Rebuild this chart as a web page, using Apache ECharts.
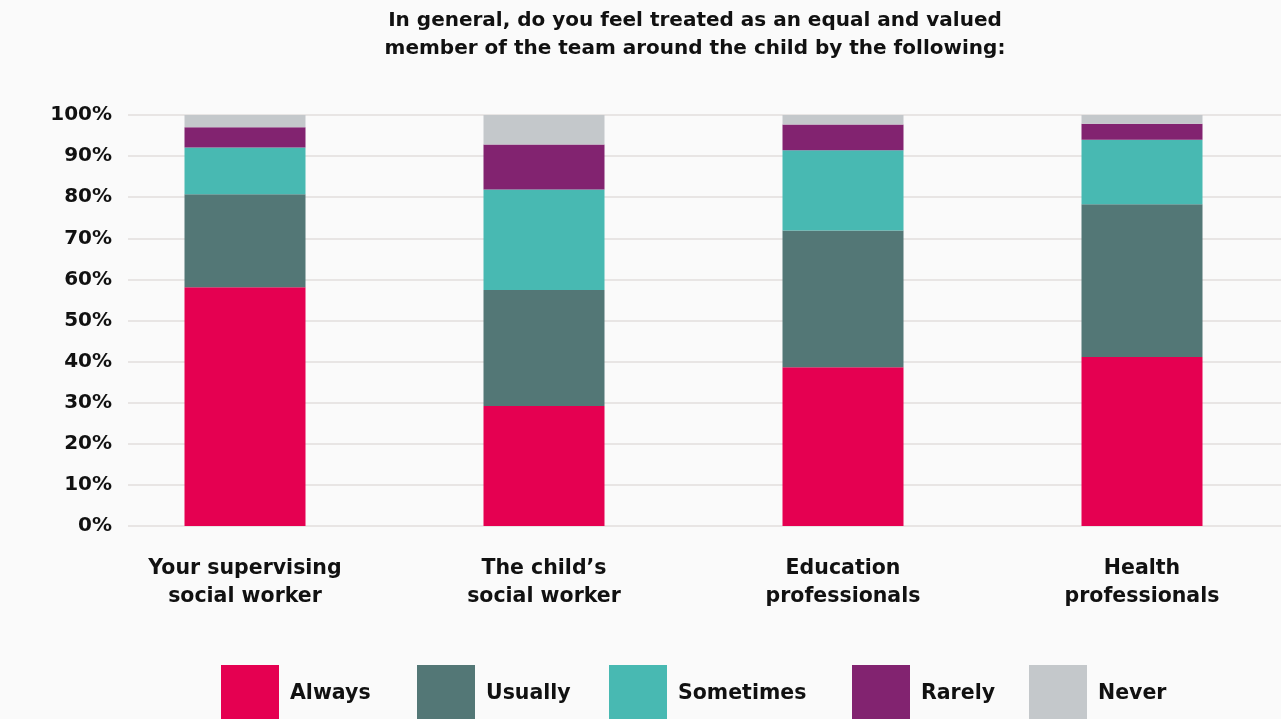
<!DOCTYPE html>
<html>
<head>
<meta charset="utf-8">
<script src="https://cdn.jsdelivr.net/npm/echarts@6/dist/echarts.min.js"></script>
<style>
html,body{margin:0;padding:0;background:#fafafa;}
#c{width:1281px;height:719px;}
</style>
</head>
<body>
<div id="c"></div>
<script>
const categories = ["Your supervising\nsocial worker", "The child\u2019s\nsocial worker", "Education\nprofessionals", "Health\nprofessionals"];
const seriesNames = ["Always", "Usually", "Sometimes", "Rarely", "Never"];
const always    = [58.1, 29.2, 38.6, 41.1];
const usually   = [22.6, 28.2, 33.3, 37.2];
const sometimes = [11.4, 24.5, 19.5, 15.7];
const rarely    = [4.9, 10.9, 6.3, 3.9];
const never     = [3.0, 7.2, 2.3, 2.1];
const yTicks = [0, 10, 20, 30, 40, 50, 60, 70, 80, 90, 100];
const titleText = "In general, do you feel treated as an equal and valued\nmember of the team around the child by the following:";

const colors = ["#e50051", "#537776", "#48b9b2", "#822370", "#c4c8cb"];
const values = [always, usually, sometimes, rarely, never];
const FONT = "DejaVu Sans";
const legendLeft = [221, 417, 609, 852, 1029];

const chart = echarts.init(document.getElementById('c'), null, {renderer: 'canvas'});
const option = {
  backgroundColor: '#fafafa',
  textStyle: {fontFamily: FONT},
  title: {
    text: titleText,
    left: 695, top: 7, textAlign: 'center', padding: 0,
    textStyle: {fontFamily: FONT, fontSize: 20, fontWeight: 'bold', color: '#111', lineHeight: 28}
  },
  legend: seriesNames.map((n, i) => ({
    data: [n], left: legendLeft[i], top: 665, padding: 0,
    itemWidth: 58, itemHeight: 58, itemGap: 0,
    icon: 'rect',
    selectedMode: false,
    textStyle: {fontFamily: FONT, fontSize: 20.5, fontWeight: 'bold', color: '#111', padding: [3, 0, 0, 6]}
  })),
  grid: [
    {left: 95.5, width: 1196, top: 115, height: 411, outerBoundsMode: 'none', containLabel: false},
    {left: 128, right: 0, top: 115, height: 411, outerBoundsMode: 'none', containLabel: false}
  ],
  xAxis: [
    {type: 'category', data: categories, gridIndex: 0,
     axisLine: {show: false}, axisTick: {show: false},
     axisLabel: {fontFamily: FONT, fontSize: 20.5, fontWeight: 'bold', color: '#111', lineHeight: 28, margin: 29, interval: 0}},
    {type: 'value', gridIndex: 1, show: false, min: 0, max: 1}
  ],
  yAxis: [
    {type: 'value', gridIndex: 0, min: 0, max: 100, interval: 10, show: false},
    {type: 'value', gridIndex: 1, min: yTicks[0], max: yTicks[yTicks.length - 1], interval: 10,
     axisLine: {show: false}, axisTick: {show: false},
     splitLine: {lineStyle: {color: '#e2dedd', width: 1.5}},
     axisLabel: {formatter: '{value}%', fontFamily: FONT, fontSize: 20, fontWeight: 'bold', color: '#111', margin: 16}}
  ],
  series: seriesNames.map((n, i) => ({
    name: n, type: 'bar', stack: 'total', barWidth: 121,
    xAxisIndex: 0, yAxisIndex: 0,
    itemStyle: {color: colors[i]},
    data: values[i],
    z: 3
  }))
};
chart.setOption(option);
</script>
</body>
</html>
